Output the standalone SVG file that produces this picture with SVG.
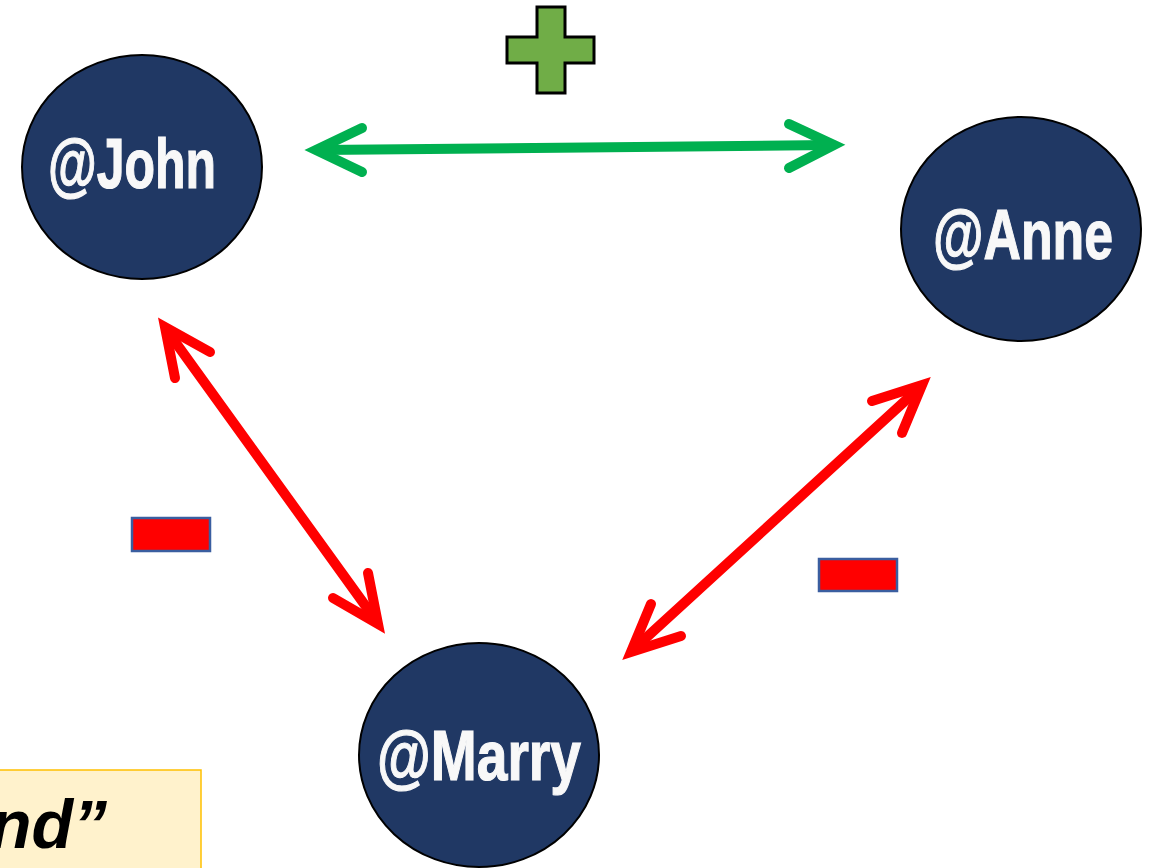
<svg xmlns="http://www.w3.org/2000/svg" width="1149" height="868" viewBox="0 0 1149 868">
<style>
.node{fill:#203864;stroke:#000;stroke-width:2}
.lbl{font-family:"Liberation Sans",Arial,sans-serif;font-weight:bold;font-size:70px;fill:#F8F8F8;stroke:#F8F8F8;stroke-width:1.2}
.green{fill:none;stroke:#00B050;stroke-width:10;stroke-linecap:round;stroke-linejoin:miter}
.red{fill:none;stroke:#FF0000;stroke-width:10;stroke-linecap:round;stroke-linejoin:miter}
.minus{fill:#FF0000;stroke:#3A5EA0;stroke-width:2.5}
</style>
<rect width="1149" height="868" fill="#fff"/>
<g id="note">
<rect x="-5" y="770" width="206" height="110" fill="#FFF2CC" stroke="#FFC000" stroke-width="1.5"/>
<text x="107" y="848" text-anchor="end" font-family="Liberation Sans,Arial,sans-serif" font-weight="bold" font-style="italic" font-size="68" fill="#000">nd”</text>
</g>
<g id="connectors">
<line class="green" x1="320" y1="150" x2="830" y2="145"/>
<polyline class="green" points="362,128 316,150 362,172"/>
<polyline class="green" points="789,124 834,145 789,168"/>
<line class="red" x1="168" y1="332" x2="375" y2="619"/>
<polyline class="red" points="175,378 165,327 210,352"/>
<polyline class="red" points="368,573 378,624 333,598"/>
<line class="red" x1="917" y1="390" x2="636" y2="647"/>
<polyline class="red" points="872,401 922,385 902,433"/>
<polyline class="red" points="681,636 631,652 651,604"/>
</g>
<g id="plus">
<polygon points="537,7 565,7 565,37 594,37 594,63 565,63 565,93 537,93 537,63 507,63 507,37 537,37" fill="#70AD47" stroke="#000" stroke-width="3"/>
</g>
<g id="minus1"><rect class="minus" x="132" y="518" width="78" height="33"/></g>
<g id="minus2"><rect class="minus" x="819" y="559" width="78" height="32"/></g>
<g id="john">
<ellipse class="node" cx="142" cy="167" rx="120" ry="112"/>
<text class="lbl" x="48" y="188" textLength="168" lengthAdjust="spacingAndGlyphs">@John</text>
</g>
<g id="anne">
<ellipse class="node" cx="1021" cy="229" rx="120" ry="112"/>
<text class="lbl" x="933" y="259" textLength="180" lengthAdjust="spacingAndGlyphs">@Anne</text>
</g>
<g id="marry">
<ellipse class="node" cx="479" cy="755" rx="120" ry="112"/>
<text class="lbl" x="377" y="780" textLength="204" lengthAdjust="spacingAndGlyphs">@Marry</text>
</g>
</svg>
